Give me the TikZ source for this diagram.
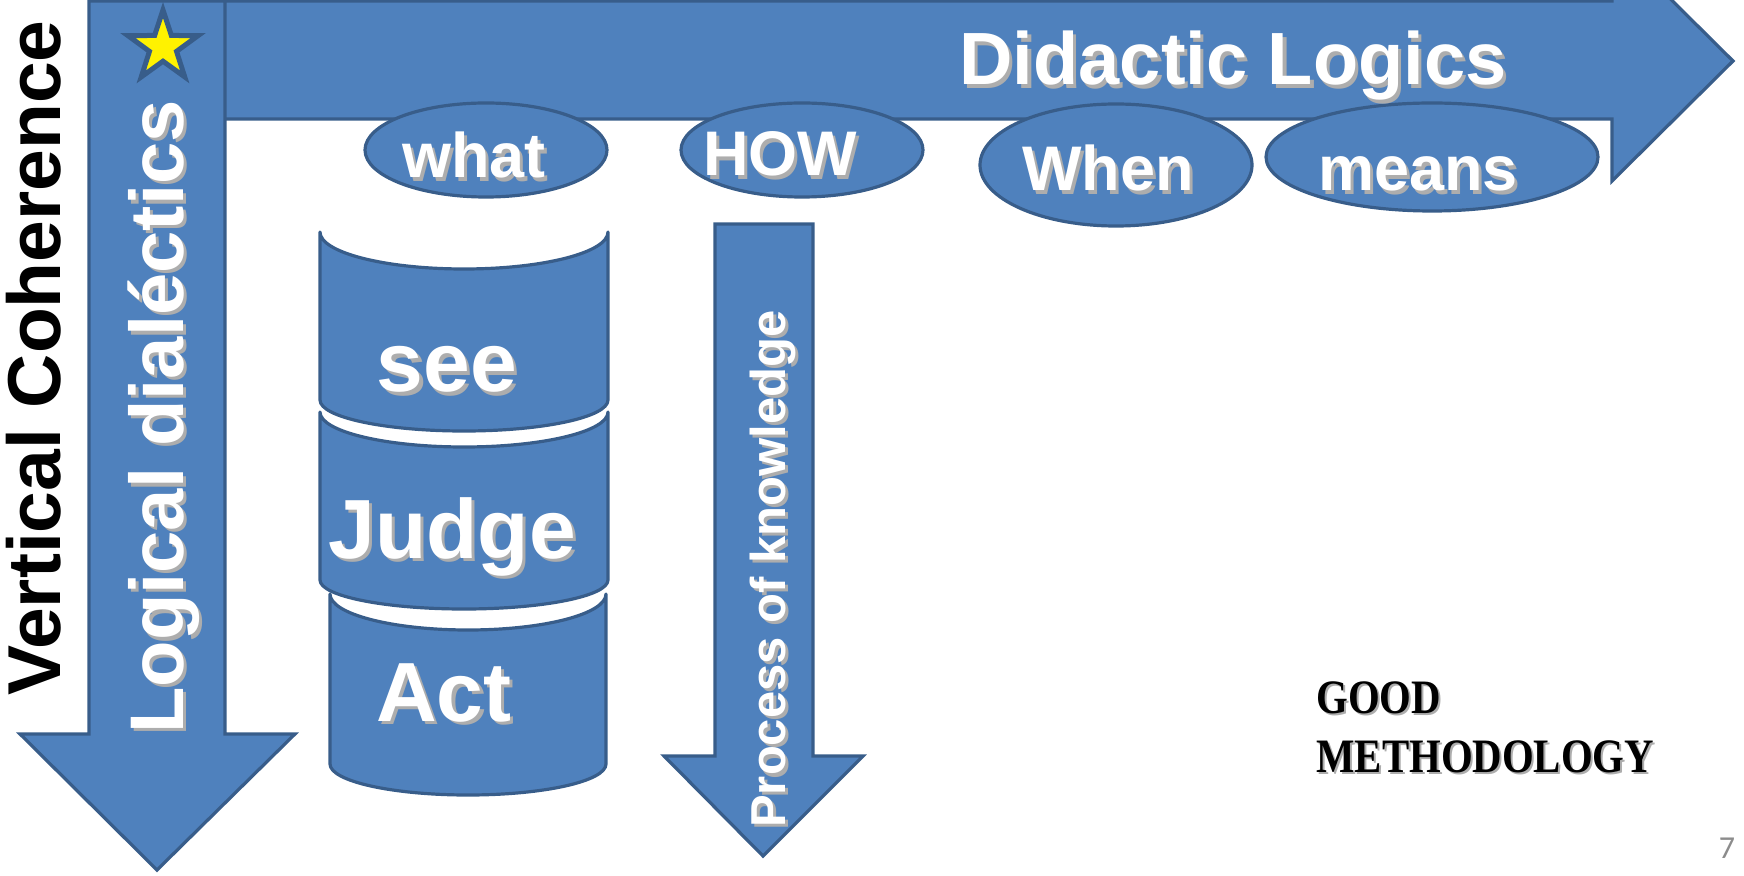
\documentclass[tikz,border=0pt]{standalone}
\usepackage{fontspec}
\setmainfont{Liberation Sans}
\newfontfamily\decofont{Liberation Serif}
\newfontfamily\pagefont{Carlito}
\usetikzlibrary{shapes.geometric}
\definecolor{bfill}{HTML}{4F81BD}
\definecolor{bline}{HTML}{385D8A}
\definecolor{shd}{HTML}{ADADAD}
\definecolor{pgray}{HTML}{8C8C8C}
\newcommand\fsz[1]{\fontsize{#1}{#1}\selectfont}
% #1 options, #2 name, #3 position, #4 text
\newcommand\shtxt[4]{%
  \node[xshift=1.6pt,yshift=-1.6pt,#1,text=shd] (#2s) at (#3) {#4};
  \node[#1,text=white] (#2) at (#3) {#4};}
\begin{document}
\begin{tikzpicture}[x=0.5pt,y=0.5pt,
  blueshape/.style={fill=bfill,draw=bline,line width=1.6pt},
  canshape/.style={blueshape,line join=round},
  lbl/.style={inner sep=0pt,anchor=base,font=\bfseries\fsz{#1}},
  oval/.style={blueshape,ellipse,inner sep=0pt}]
\useasboundingbox (0,0) rectangle (1744,-876);

% horizontal arrow: Didactic Logics
\draw[blueshape] (200,-1) -- (1612,-1) -- (1612,59) -- (1733,-61)
  -- (1612,-181) -- (1612,-119) -- (200,-119) -- cycle;
% vertical arrow: Logical dialectics
\draw[blueshape] (89,-1) -- (225,-1) -- (225,-734) -- (295,-734)
  -- (157,-870) -- (20,-734) -- (89,-734) -- cycle;
\node[star,star points=5,star point ratio=2.6,minimum size=37pt,inner sep=0pt,
  fill=yellow,draw=bline,line width=2.5pt] (star) at (163,-47) {};

% ovals
\node[oval,minimum width=121pt,minimum height=47pt] (ewhat) at (486,-150) {};
\node[oval,minimum width=121pt,minimum height=47pt] (ehow) at (802,-150) {};
\node[oval,minimum width=136pt,minimum height=61pt] (ewhen) at (1116,-165) {};
\node[oval,minimum width=166pt,minimum height=54pt] (emeans) at (1432,-157) {};

\shtxt{lbl=37pt}{tdl}{1233,-85}{Didactic Logics}
\shtxt{lbl=31.5pt}{twhat}{474,-178}{what}
\shtxt{lbl=31.5pt}{thow}{780,-176}{HOW}
\shtxt{lbl=31.5pt}{twhen}{1108,-191}{When}
\shtxt{lbl=31.5pt}{tmeans}{1418,-191}{means}
\shtxt{lbl=38pt,rotate=90}{tld}{183,-417}{Logical dialéctics}

\node[lbl=37.5pt,rotate=90] (vc) at (60,-358) {Vertical Coherence};

% cans
\filldraw[canshape] (320,-232) arc[start angle=180,end angle=360,x radius=144,y radius=37]
  -- (608,-400) arc[start angle=0,end angle=-180,x radius=144,y radius=31] -- cycle;
\filldraw[canshape] (320,-412) arc[start angle=180,end angle=360,x radius=144,y radius=35]
  -- (608,-580) arc[start angle=0,end angle=-180,x radius=144,y radius=29] -- cycle;
\filldraw[canshape] (330,-594) arc[start angle=180,end angle=360,x radius=138,y radius=36]
  -- (606,-764) arc[start angle=0,end angle=-180,x radius=138,y radius=31] -- cycle;
\shtxt{lbl=42pt}{tsee}{447,-392}{see}
\shtxt{lbl=42pt}{tjudge}{452,-558}{Judge}
\shtxt{lbl=42pt}{tact}{444,-721}{Act}

% process arrow
\draw[blueshape] (715,-224) -- (813,-224) -- (813,-756) -- (863,-756)
  -- (763,-856) -- (664,-756) -- (715,-756) -- cycle;
\shtxt{lbl=24.5pt,rotate=90}{tpk}{785,-569}{Process of knowledge}

% good methodology
\node[inner sep=0pt,anchor=base west,xshift=1pt,yshift=-1pt,xscale=0.85,text=shd,
  font=\decofont\bfseries\fsz{24pt}] (gm1s) at (1316,-713) {GOOD};
\node[inner sep=0pt,anchor=base west,xscale=0.85,
  font=\decofont\bfseries\fsz{24pt}] (gm1) at (1316,-713) {GOOD};
\node[inner sep=0pt,anchor=base west,xshift=1pt,yshift=-1pt,xscale=0.85,text=shd,
  font=\decofont\bfseries\fsz{24pt}] (gm2s) at (1316,-772) {METHODOLOGY};
\node[inner sep=0pt,anchor=base west,xscale=0.85,
  font=\decofont\bfseries\fsz{24pt}] (gm2) at (1316,-772) {METHODOLOGY};

\node[inner sep=0pt,text=pgray,font=\pagefont\fsz{16pt}] (pg) at (1727,-848) {7};
\end{tikzpicture}
\end{document}
